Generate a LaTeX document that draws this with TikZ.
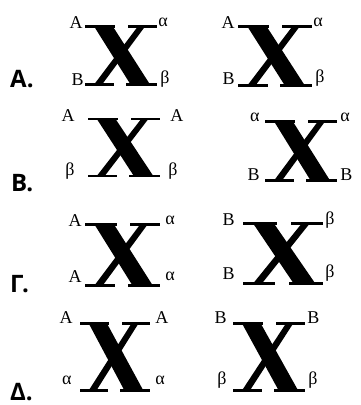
\documentclass[tikz,border=0pt]{standalone}
\usepackage{fontspec}
\usetikzlibrary{positioning}
\newfontfamily\xfont{Liberation Serif}
\newfontfamily\optfont{Open Sans}

\begin{document}
\begin{tikzpicture}[x=1pt, y=1pt, node distance=3pt]
    \tikzset{
        chrom/.style 2 args={inner sep=0pt, minimum width=#1, minimum height=#2,
        path picture={
            \begin{scope}[shift={(path picture bounding box.center)}, x=#1, y=#2]
                \fill (-0.37,0.47) -- (-0.11,0.47) -- (0.40,-0.47) -- (0.13,-0.47) -- cycle;
                \fill (0.23,0.47) -- (0.33,0.47) -- (-0.26,-0.47) -- (-0.37,-0.47) -- cycle;
                \fill (-0.5,0.5) rectangle (-0.08,0.458);
                \fill (0.1,0.5) rectangle (0.5,0.458);
                \fill (-0.5,-0.5) rectangle (-0.1,-0.458);
                \fill (0.07,-0.5) rectangle (0.5,-0.458);
            \end{scope}}},
        gene/.style={inner sep=0pt, font=\xfont\fontsize{18}{18}\selectfont},
        hi/.style={yshift=#1}, hi/.default=2pt,
        low/.style={yshift=#1}, low/.default=9pt,
        option/.style={inner sep=0pt, anchor=base west,
        font=\optfont\bfseries\fontsize{24}{24}\selectfont}
    }
    \useasboundingbox (0,0) rectangle (360,405);

    \node (optA) [option] at (10,317) {Α.};
    \node (optB) [option] at (11,213) {Β.};
    \node (optC) [option] at (10,112) {Γ.};
    \node (optD) [option] at (10,5) {Δ.};

    % row A
    \node (x1) [chrom={72pt}{61pt}] at (121,349.5) {};
    \node (x1tl) [gene, hi, left=2pt of x1.north west] {Α};
    \node (x1tr) [gene, hi, right=1pt of x1.north east] {α};
    \node (x1bl) [gene, low=7pt, left=1pt of x1.south west] {Β};
    \node (x1br) [gene, low=7pt, right=3pt of x1.south east] {β};

    \node (x2) [chrom={74pt}{62pt}] at (275,349) {};
    \node (x2tl) [gene, hi, left=of x2.north west] {Α};
    \node (x2tr) [gene, hi, right=1pt of x2.north east] {α};
    \node (x2bl) [gene, low, left=of x2.south west] {Β};
    \node (x2br) [gene, low, right=of x2.south east] {β};

    % row B
    \node (x3) [chrom={72pt}{59pt}] at (124,257.5) {};
    \node (x3tl) [gene, hi, left=13pt of x3.north west] {Α};
    \node (x3tr) [gene, hi, right=10pt of x3.north east] {Α};
    \node (x3bl) [gene, low=6pt, left=13pt of x3.south west] {β};
    \node (x3br) [gene, low=6pt, right=8pt of x3.south east] {β};

    \node (x4) [chrom={72pt}{62pt}] at (301,254) {};
    \node (x4tl) [gene, hi, left=5pt of x4.north west] {α};
    \node (x4tr) [gene, hi, right=of x4.north east] {α};
    \node (x4bl) [gene, low=8pt, left=5pt of x4.south west] {Β};
    \node (x4br) [gene, low=8pt, right=of x4.south east] {Β};

    % row C
    \node (x5) [chrom={75pt}{64pt}] at (122.5,150) {};
    \node (x5tl) [gene, hi, left=of x5.north west] {Α};
    \node (x5tr) [gene, hi, right=5pt of x5.north east] {α};
    \node (x5bl) [gene, low=11pt, left=of x5.south west] {Α};
    \node (x5br) [gene, low=11pt, right=5pt of x5.south east] {α};

    \node (x6) [chrom={80pt}{63pt}] at (283,151.5) {};
    \node (x6tl) [gene, hi, left=8pt of x6.north west] {Β};
    \node (x6tr) [gene, hi, right=2pt of x6.north east] {β};
    \node (x6bl) [gene, low=12pt, left=8pt of x6.south west] {Β};
    \node (x6br) [gene, low=12pt, right=2pt of x6.south east] {β};

    % row D
    \node (x7) [chrom={70pt}{70pt}] at (115,48) {};
    \node (x7tl) [gene, hi=4pt, left=7pt of x7.north west] {Α};
    \node (x7tr) [gene, hi=4pt, right=5pt of x7.north east] {Α};
    \node (x7bl) [gene, low=12pt, left=8pt of x7.south west] {α};
    \node (x7br) [gene, low=12pt, right=5pt of x7.south east] {α};

    \node (x8) [chrom={72pt}{70pt}] at (269,48) {};
    \node (x8tl) [gene, hi=4pt, left=6pt of x8.north west] {Β};
    \node (x8tr) [gene, hi=4pt, right=2pt of x8.north east] {Β};
    \node (x8bl) [gene, low=12pt, left=6pt of x8.south west] {β};
    \node (x8br) [gene, low=12pt, right=of x8.south east] {β};
\end{tikzpicture}
\end{document}
